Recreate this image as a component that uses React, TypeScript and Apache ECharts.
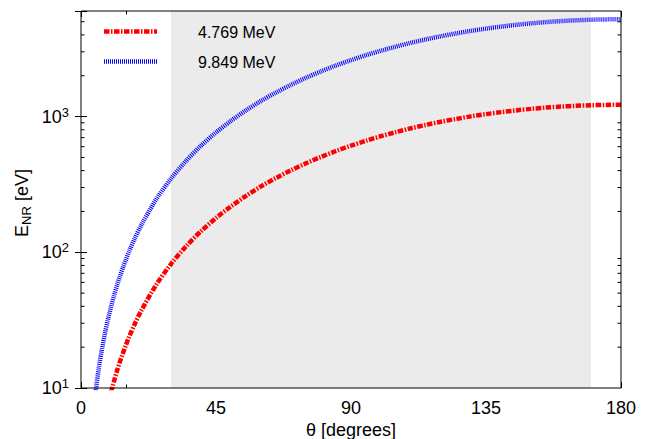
import { useEffect, useRef } from "react";
import * as echarts from "echarts";

const FONT = "'Liberation Sans', Arial, Helvetica, sans-serif";

const seriesNames = ["4.769 MeV", "9.849 MeV"];

// 4.769 MeV curve (angle in degrees, recoil energy in eV)
const redAngles = [10, 11, 12, 13, 14, 15, 16, 18, 20, 25, 30, 35, 40, 45, 50, 55, 60, 65, 70, 75, 80, 85, 90, 95, 100, 105, 110, 115, 120, 125, 130, 135, 140, 145, 150, 155, 160, 165, 170, 175, 180];
const redValues = [9.3, 11.2, 13.4, 15.7, 18.1, 20.8, 23.7, 29.9, 36.8, 57.3, 81.9, 110.5, 143, 179, 218, 260.5, 306, 353, 402, 453, 505, 558, 611, 664, 717, 769, 820, 869, 917, 961, 1004, 1043, 1079, 1111, 1140, 1165, 1185, 1201, 1213, 1220, 1222];

// 9.849 MeV curve
const blueAngles = [4, 5, 6, 7, 8, 9, 10, 11, 12, 13, 14, 15, 16, 18, 20, 25, 30, 35, 40, 45, 50, 55, 60, 65, 70, 75, 80, 85, 90, 95, 100, 105, 110, 115, 120, 125, 130, 135, 140, 145, 150, 155, 160, 165, 170, 175, 180];
const blueValues = [6.4, 9.9, 14.3, 19.4, 25.4, 32.1, 39.6, 47.9, 57.1, 66.8, 77.4, 88.8, 101, 127.6, 157, 244, 349, 471, 610, 764, 931, 1112, 1304, 1505, 1715, 1932, 2154, 2380, 2607, 2834, 3060, 3282, 3499, 3709, 3910, 4102, 4283, 4450, 4604, 4743, 4865, 4970, 5057, 5125, 5174, 5204, 5214];

const xTicks = [0, 45, 90, 135, 180];
const yMajorTicks = [10, 100, 1000];
const yMinorMultipliers = [2, 3, 4, 5, 6, 7, 8, 9];
const shadedRange = [30, 170];
const xRange = [0, 180];
const yRange = [10, 6000];

export default function App() {
  const ref = useRef<HTMLDivElement>(null);
  useEffect(() => {
    document.body.style.margin = "0";
    const chart = echarts.init(ref.current!, null, { renderer: "svg" });
    const W = 653, H = 439;
    const left = 81, top = 11, right = 32, bottom = 51;
    const gw = W - left - right, gh = H - top - bottom;

    const yLabel = (v: number) => {
      const e = Math.round(Math.log10(v));
      if (Math.abs(Math.log10(v) - e) > 1e-6 || !yMajorTicks.includes(Math.pow(10, e))) return "";
      return `{b|10}{s|${e}}`;
    };
    const xLabel = (v: number) => (xTicks.includes(v) ? String(v) : "");

    const xBase = {
      type: "value" as const,
      min: xRange[0],
      max: xRange[1],
      interval: 45,
      splitLine: { show: false },
      axisLine: { show: false },
      axisTick: { show: true, inside: true, length: 6, lineStyle: { color: "#000" } },
      minorTick: { show: true, splitNumber: 3, length: 3.5, lineStyle: { color: "#000" } },
    };
    const yBase = {
      type: "log" as const,
      logBase: 10,
      min: yRange[0],
      max: yRange[1],
      splitLine: { show: false },
      axisLine: { show: false },
      axisTick: { show: true, inside: true, length: 6, lineStyle: { color: "#000" } },
    };

    const lineSeries = (name: string, xs: number[], ys: number[], color: string, dash: number[]) => ({
      name,
      type: "line" as const,
      data: xs.map((x, i) => [x, ys[i]]),
      showSymbol: false,
      smooth: 0.3,
      clip: true,
      z: 5,
      lineStyle: { color, width: 4.5, type: dash, cap: "butt" as const },
    });

    chart.setOption({
      animation: false,
      textStyle: { fontFamily: FONT },
      grid: { left, top, right, bottom, containLabel: false, outerBoundsMode: "none" },
      xAxis: [
        {
          ...xBase,
          position: "bottom",
          name: "θ [degrees]",
          nameLocation: "middle",
          nameGap: 33,
          nameMoveOverlap: false,
          nameTextStyle: { fontSize: 18, color: "#000", fontFamily: FONT, lineHeight: 18 },
          axisLabel: { formatter: xLabel, fontSize: 18, color: "#000", margin: 11, fontFamily: FONT },
        },
        { ...xBase, position: "top", axisLabel: { show: false } },
      ],
      yAxis: [
        {
          ...yBase,
          position: "left",
          name: "{e|E}{sub|NR}{e| [eV]}",
          nameLocation: "middle",
          nameRotate: 90,
          nameGap: 48,
          nameMoveOverlap: false,
          nameTextStyle: {
            color: "#000",
            fontFamily: FONT,
            padding: [0, 7, 0, 0],
            rich: {
              e: { fontSize: 18, color: "#000", fontFamily: FONT, lineHeight: 22 },
              sub: { fontSize: 13, color: "#000", fontFamily: FONT, lineHeight: 13, verticalAlign: "bottom" },
            },
          },
          axisLabel: {
            formatter: yLabel,
            margin: 12,
            color: "#000",
            rich: {
              b: { fontSize: 18, color: "#000", fontFamily: FONT, lineHeight: 22 },
              s: { fontSize: 13, color: "#000", fontFamily: FONT, lineHeight: 13, verticalAlign: "top" },
            },
          },
        },
        { ...yBase, position: "right", axisLabel: { show: false } },
      ],
      series: [
        {
          type: "line",
          data: [],
          z: 1,
          silent: true,
          markArea: {
            silent: true,
            itemStyle: { color: "#ebebeb" },
            data: [[{ xAxis: shadedRange[0] }, { xAxis: shadedRange[1] }]],
          },
        },
        lineSeries(seriesNames[0], redAngles, redValues, "#ff0000", [5.5, 1.5, 1.5, 1.5]),
        lineSeries(seriesNames[1], blueAngles, blueValues, "#0000ff", [1, 1]),
      ],
    });

    const graphics: any[] = [];
    // minor ticks on the log axis
    for (const d of yMajorTicks) {
      for (const m of yMinorMultipliers) {
        const v = m * d;
        if (v >= yRange[1]) continue;
        const py = chart.convertToPixel({ yAxisIndex: 0 }, v) as number;
        graphics.push({
          type: "line", z: 50, silent: true,
          shape: { x1: left, y1: py, x2: left + 3.5, y2: py },
          style: { stroke: "#000", lineWidth: 1 },
        });
        graphics.push({
          type: "line", z: 50, silent: true,
          shape: { x1: left + gw - 3.5, y1: py, x2: left + gw, y2: py },
          style: { stroke: "#000", lineWidth: 1 },
        });
      }
    }
    // frame
    graphics.push({
      type: "rect", z: 100, silent: true,
      shape: { x: left, y: top, width: gw, height: gh },
      style: { fill: "none", stroke: "#000", lineWidth: 1 },
    });
    // legend
    const legendStyles = [
      { color: "#ff0000", dash: [5.5, 1.5, 1.5, 1.5], y: 31.5 },
      { color: "#0000ff", dash: [1, 1], y: 61.5 },
    ];
    legendStyles.forEach((s, i) => {
      graphics.push({
        type: "line", z: 60, silent: true,
        shape: { x1: 104, y1: s.y, x2: 157, y2: s.y },
        style: { stroke: s.color, lineWidth: 4.5, lineDash: s.dash, lineCap: "butt" },
      });
      graphics.push({
        type: "text", z: 60, silent: true,
        x: 198, y: s.y + 1,
        style: { text: seriesNames[i], fill: "#000", font: `16px ${FONT}`, verticalAlign: "middle", align: "left" },
      });
    });
    chart.setOption({ graphic: graphics });

    return () => chart.dispose();
  }, []);
  return <div ref={ref} style={{ width: 653, height: 439 }} />;
}
